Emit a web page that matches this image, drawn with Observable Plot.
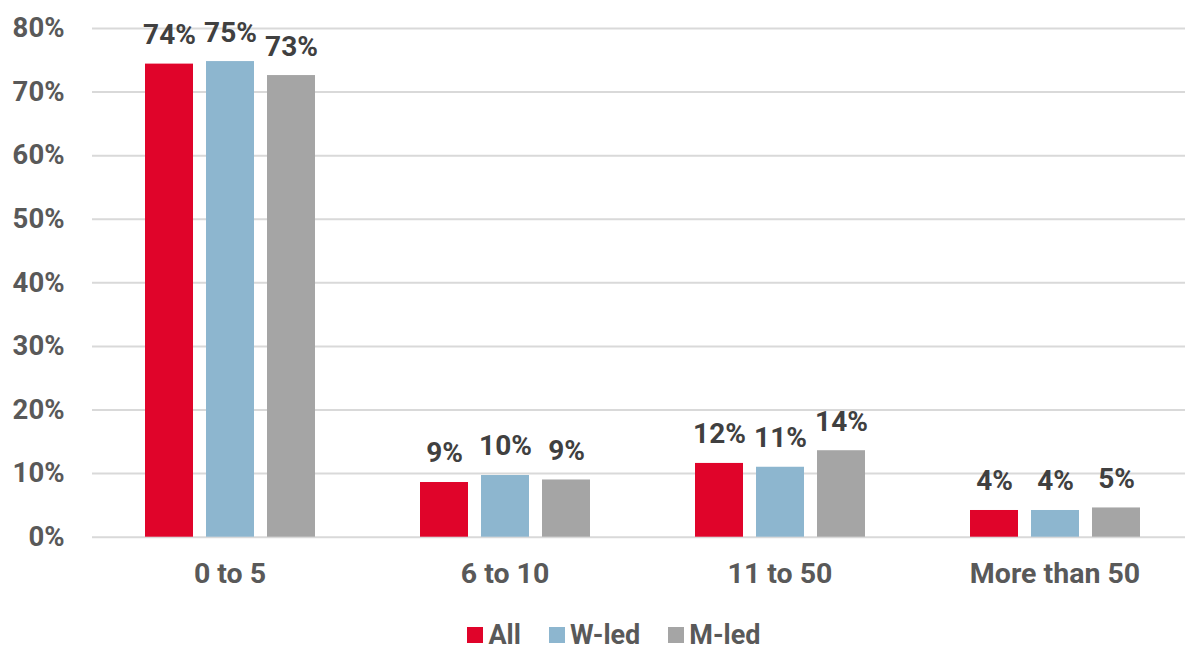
<!DOCTYPE html>
<html>
<head>
<meta charset="utf-8">
<script src="https://cdn.jsdelivr.net/npm/d3@7"></script>
<script src="https://cdn.jsdelivr.net/npm/@observablehq/plot@0.6"></script>
<style>
  body { margin: 0; background: #fff; font-family: Roboto, sans-serif; }
  #chart { width: 1185px; height: 648px; overflow: hidden; }
  .legend {
    display: flex; justify-content: center; align-items: center;
    height: 24px; margin-top: 23px; padding-left: 43px;
    font: bold 27px/24px Roboto, sans-serif; color: #595959; gap: 28px;
  }
  .legend .item { display: flex; align-items: center; }
  .legend .sw { display: inline-block; width: 16px; height: 16px; margin-right: 5px; }
  .legend .lab { display: inline-block; height: 24px; line-height: 24px; }
</style>
</head>
<body>
<div id="chart"></div>
<script>
// Firm size groups (number of employees) and the three respondent groups
const categories = ["0 to 5", "6 to 10", "11 to 50", "More than 50"];
const series = ["All", "W-led", "M-led"];

// Share of firms in each size group, percent
const allValues  = [74.4, 8.6, 11.6, 4.2];
const wledValues = [74.8, 9.7, 11.0, 4.2];
const mledValues = [72.6, 9.0, 13.6, 4.6];

const colors = ["#E0042A", "#8DB6CF", "#A5A5A5"];
const yTicks = [0, 10, 20, 30, 40, 50, 60, 70, 80];

const valuesBySeries = [allValues, wledValues, mledValues];
const rows = categories.flatMap((category, i) =>
  series.map((s, j) => ({category, series: s, value: valuesBySeries[j][i]}))
);

const chart = Plot.plot({
  width: 1185,
  height: 600,
  marginLeft: 92,
  marginRight: -7,
  marginTop: 28,
  marginBottom: 63.3,
  style: {fontFamily: "Roboto, sans-serif", background: "white", overflow: "visible"},
  fx: {domain: categories, padding: 0, label: null},
  x: {domain: series, paddingInner: 0.22, paddingOuter: 0.847, axis: null},
  y: {domain: [0, 80], axis: null},
  color: {domain: series, range: colors},
  marks: [
    Plot.ruleY(yTicks, {stroke: "#d9d9d9", strokeWidth: 2}),
    Plot.barY(rows, {fx: "category", x: "series", y: "value", fill: "series"}),
    Plot.text(rows, {
      fx: "category", x: "series", y: "value",
      text: d => Math.round(d.value) + "%",
      dy: -29, fontSize: 28, fontWeight: "bold", fill: "#404040"
    }),
    Plot.axisY(yTicks, {
      tickSize: 0, tickPadding: 28, tickFormat: d => d + "%",
      fontSize: 27.5, fontWeight: "bold", color: "#595959", label: null
    }),
    Plot.axisFx({
      anchor: "bottom", tickSize: 0, tickPadding: 25.8,
      fontSize: 28.5, fontWeight: "bold", color: "#595959", label: null
    })
  ]
});

const root = document.getElementById("chart");
root.appendChild(chart);

// Legend row below the plot
const legend = document.createElement("div");
legend.className = "legend";
series.forEach((s, i) => {
  const item = document.createElement("div");
  item.className = "item";
  const sw = document.createElement("span");
  sw.className = "sw";
  sw.style.background = colors[i];
  const label = document.createElement("span");
  label.className = "lab";
  label.textContent = s;
  item.appendChild(sw);
  item.appendChild(label);
  legend.appendChild(item);
});
root.appendChild(legend);
</script>
</body>
</html>
